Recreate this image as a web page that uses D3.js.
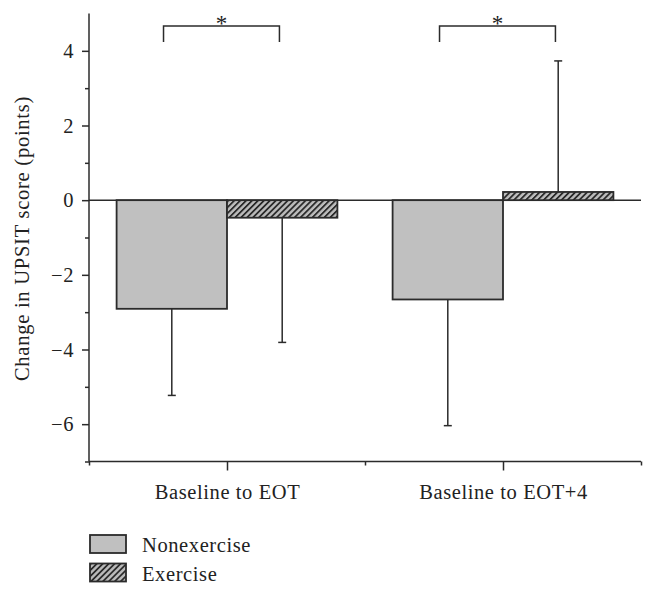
<!DOCTYPE html>
<html><head><meta charset="utf-8">
<script src="https://cdn.jsdelivr.net/npm/d3@7"></script>
<style>body{margin:0;background:#fff}svg{display:block}text{font-family:"Liberation Serif","Times New Roman",serif;fill:#222;letter-spacing:0.6px}</style>
</head><body>
<script>
const categories = ["Baseline to EOT", "Baseline to EOT+4"];
const series = ["Nonexercise", "Exercise"];
const nonexercise = [-2.91, -2.66];
const nonexerciseErr = [-5.23, -6.04];
const exercise = [-0.47, 0.22];
const exerciseErr = [-3.81, 3.73];
const yTicks = [-6, -4, -2, 0, 2, 4];
const yMinor = [-7, -5, -3, -1, 1, 3];
const significance = ["*", "*"];
const yLabel = "Change in UPSIT score (points)";

const W = 656, H = 596;
const FS = 20.5;
const svg = d3.select("body").append("svg").attr("width", W).attr("height", H);
const defs = svg.append("defs");
const pat = defs.append("pattern").attr("id","hatch").attr("patternUnits","userSpaceOnUse")
  .attr("width",4.2).attr("height",4.2).attr("patternTransform","rotate(45)");
pat.append("rect").attr("width",4.2).attr("height",4.2).attr("fill","#bdbdbd");
pat.append("rect").attr("x",0).attr("width",1.8).attr("height",4.2).attr("fill","#2a2a2a");

const x = d3.scaleLinear().domain([0, 4]).range([89, 641]);
const y = d3.scaleLinear().domain([-7, 5]).range([461.5, 13.5]);
const centers = categories.map((c, i) => 1 + 2 * i);
const bw = 0.8;
const stroke = "#2b2b2b";

// axes
const yAxis = svg.append("g").attr("transform", `translate(${x(0)},0)`)
  .call(d3.axisLeft(y).tickValues(yTicks).tickSize(7).tickPadding(8)
    .tickFormat(d => d < 0 ? "\u2212" + Math.abs(d) : d));
yAxis.select(".domain").remove();
yAxis.selectAll("line").attr("stroke", stroke).attr("stroke-width", 1.5);
yAxis.selectAll("text").attr("font-size", FS).attr("font-family", '"Liberation Serif",serif').attr("fill", "#222");
svg.append("g").attr("transform", `translate(${x(0)},0)`)
  .call(d3.axisLeft(y).tickValues(yMinor).tickSize(4).tickFormat(""))
  .call(g => g.select(".domain").remove())
  .selectAll("line").attr("stroke", stroke).attr("stroke-width", 1.5);
svg.append("line").attr("x1", x(0)).attr("x2", x(0)).attr("y1", y(5)).attr("y2", y(-7))
  .attr("stroke", stroke).attr("stroke-width", 1.5);

const xAxis = svg.append("g").attr("transform", `translate(0,${y(-7)})`)
  .call(d3.axisBottom(x).tickValues(centers).tickSize(9).tickPadding(14)
    .tickFormat((d, i) => categories[i]));
xAxis.select(".domain").remove();
xAxis.selectAll("line").attr("stroke", stroke).attr("stroke-width", 1.5);
xAxis.selectAll("text").attr("font-size", FS).attr("font-family", '"Liberation Serif",serif').attr("fill", "#222");
svg.append("g").attr("transform", `translate(0,${y(-7)})`)
  .call(d3.axisBottom(x).tickValues([0, 2, 4]).tickSize(4).tickFormat(""))
  .call(g => g.select(".domain").remove())
  .selectAll("line").attr("stroke", stroke).attr("stroke-width", 1.5);
svg.append("line").attr("x1", x(0)).attr("x2", x(4)).attr("y1", y(-7)).attr("y2", y(-7))
  .attr("stroke", stroke).attr("stroke-width", 1.5);

// zero line
svg.append("line").attr("x1", x(0)).attr("x2", x(4)).attr("y1", y(0)).attr("y2", y(0))
  .attr("stroke", stroke).attr("stroke-width", 1.5);

// error bars
function errBar(cx, v, e) {
  const g = svg.append("g").attr("stroke", stroke).attr("stroke-width", 1.5);
  g.append("line").attr("x1", cx).attr("x2", cx).attr("y1", y(v)).attr("y2", y(e));
  g.append("line").attr("x1", cx - 4).attr("x2", cx + 4).attr("y1", y(e)).attr("y2", y(e));
}
categories.forEach((c, i) => {
  const cx = centers[i];
  errBar(x(cx - bw / 2), nonexercise[i], nonexerciseErr[i]);
  errBar(x(cx + bw / 2), exercise[i], exerciseErr[i]);
});

// bars
categories.forEach((c, i) => {
  const cx = centers[i];
  const v1 = nonexercise[i], v2 = exercise[i];
  svg.append("rect").attr("x", x(cx - bw)).attr("width", x(cx) - x(cx - bw))
    .attr("y", y(Math.max(0, v1))).attr("height", Math.abs(y(v1) - y(0)))
    .attr("fill", "#c0c0c0").attr("stroke", stroke).attr("stroke-width", 1.8);
  svg.append("rect").attr("x", x(cx)).attr("width", x(cx + bw) - x(cx))
    .attr("y", y(Math.max(0, v2))).attr("height", Math.abs(y(v2) - y(0)))
    .attr("fill", "url(#hatch)").attr("stroke", stroke).attr("stroke-width", 1.8);
});

// significance brackets
categories.forEach((c, i) => {
  const cx = centers[i];
  const x1 = x(cx - 0.46), x2 = x(cx + 0.38);
  const yt = 26, yb = 42;
  svg.append("path").attr("d", `M${x1},${yb}V${yt}H${x2}V${yb}`)
    .attr("fill", "none").attr("stroke", stroke).attr("stroke-width", 1.5);
  svg.append("text").attr("x", (x1 + x2) / 2).attr("y", 31).attr("text-anchor", "middle")
    .attr("font-size", 23).style("letter-spacing", "0px").text(significance[i]);
});

// y label
svg.append("text").attr("transform", `translate(29,${(y(5)+y(-7))/2 + 1}) rotate(-90)`)
  .attr("text-anchor", "middle").attr("font-size", FS).style("letter-spacing", "0.75px").text(yLabel);

// legend
const fills = ["#c0c0c0", "url(#hatch)"];
series.forEach((s, i) => {
  const ly = 535 + i * 28.5;
  svg.append("rect").attr("x", 90).attr("y", ly).attr("width", 36).attr("height", 18)
    .attr("fill", fills[i]).attr("stroke", stroke).attr("stroke-width", 1.8);
  svg.append("text").attr("x", 142).attr("y", ly + 17).attr("font-size", FS).text(s);
});
</script>
</body></html>
